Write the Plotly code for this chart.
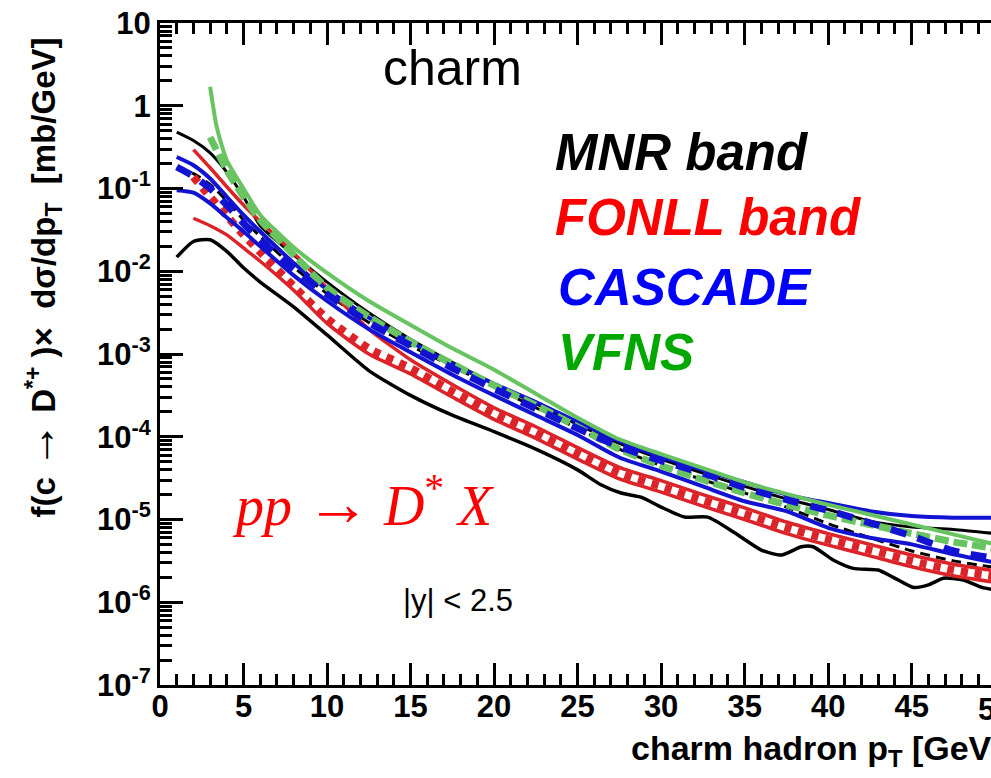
import plotly.graph_objects as go

# ---------------- data ----------------
pt_grid = [1, 2, 3, 4, 5, 6, 8, 10, 12.5, 15, 17.5, 20, 22.5, 25, 27.5, 30,
           32.5, 35, 37.5, 40, 42.5, 45, 47.5, 50]
pt_from2 = pt_grid[1:]
pt_vfns_up = [3, 3.4, 4, 5, 6, 8, 10, 12.5, 15, 17.5, 20, 22.5, 25, 27.5, 30,
              32.5, 35, 37.5, 40, 42.5, 45, 47.5, 50]
pt_vfns_c = pt_grid[2:]

# MNR band (black)
mnr_upper = [0.48, 0.38, 0.27, 0.158, 0.0794, 0.0355, 0.0158, 7.4e-3, 3.16e-3,
             1.51e-3, 7.94e-4, 4.37e-4, 2.51e-4, 1.41e-4, 8.3e-5, 5.37e-5,
             3.63e-5, 2.51e-5, 1.78e-5, 1.32e-5, 9.55e-6, 8.13e-6, 7.59e-6, 6.76e-6]
mnr_central = [0.178, 0.151, 0.112, 0.0708, 0.0417, 0.0263, 0.0112, 5.37e-3,
               2.40e-3, 1.26e-3, 7.08e-4, 3.98e-4, 2.24e-4, 1.26e-4, 7.08e-5,
               4.47e-5, 3.02e-5, 2.09e-5, 1.41e-5, 8.91e-6, 6.03e-6, 4.17e-6,
               3.16e-6, 2.63e-6]
pt_mnr_low = [1, 2, 3, 4, 5, 6, 8, 10, 12.5, 15, 17.5, 20, 22.5, 25, 26.4, 27.6,
              28.8, 30, 31.4, 32.8, 34.4, 36, 37.2, 38.4, 39.1, 40.3, 41.5, 43,
              43.9, 45.1, 46, 46.9, 48.1, 49.2, 50]
mnr_lower = [0.0148, 0.0229, 0.0240, 0.0174, 0.0110, 7.41e-3, 3.72e-3, 1.70e-3,
             6.31e-4, 3.16e-4, 1.82e-4, 1.15e-4, 7.08e-5, 3.98e-5, 2.63e-5,
             2.09e-5, 1.86e-5, 1.41e-5, 1.07e-5, 1.07e-5, 6.92e-6, 4.27e-6,
             3.72e-6, 4.68e-6, 4.68e-6, 3.24e-6, 2.57e-6, 2.45e-6, 2.00e-6,
             1.51e-6, 1.62e-6, 1.95e-6, 1.86e-6, 1.51e-6, 1.41e-6]

# FONLL band (red)
fonll_upper = [0.295, 0.178, 0.105, 0.0631, 0.0398, 0.0166, 6.31e-3, 2.00e-3,
               8.51e-4, 4.27e-4, 2.24e-4, 1.32e-4, 7.41e-5, 4.27e-5, 2.95e-5,
               2.00e-5, 1.38e-5, 9.33e-6, 6.76e-6, 5.01e-6, 3.72e-6, 2.88e-6, 2.40e-6]
fonll_central = [0.138, 0.0794, 0.0468, 0.0275, 0.0170, 6.61e-3, 2.69e-3,
                 1.17e-3, 6.76e-4, 3.55e-4, 1.91e-4, 1.12e-4, 6.31e-5, 3.63e-5,
                 2.51e-5, 1.70e-5, 1.17e-5, 7.94e-6, 5.75e-6, 4.27e-6, 3.16e-6,
                 2.45e-6, 2.04e-6]
fonll_lower = [0.0437, 0.0355, 0.0275, 0.0191, 0.0132, 5.89e-3, 2.34e-3, 1.00e-3,
               5.75e-4, 3.02e-4, 1.62e-4, 9.55e-5, 5.37e-5, 3.09e-5, 2.14e-5,
               1.45e-5, 1.00e-5, 6.76e-6, 4.90e-6, 3.63e-6, 2.69e-6, 2.09e-6, 1.74e-6]

# CASCADE (blue)
cascade_upper = [0.240, 0.191, 0.132, 0.0794, 0.0479, 0.0302, 0.0126, 6.03e-3,
                 2.75e-3, 1.41e-3, 7.59e-4, 4.37e-4, 2.63e-4, 1.51e-4, 8.91e-5,
                 5.75e-5, 3.98e-5, 2.82e-5, 2.00e-5, 1.58e-5, 1.26e-5, 1.10e-5,
                 1.05e-5, 1.05e-5]
cascade_central = [0.182, 0.141, 0.100, 0.0631, 0.0380, 0.0240, 0.0107, 5.25e-3,
                   2.40e-3, 1.26e-3, 6.76e-4, 3.80e-4, 2.19e-4, 1.26e-4, 7.59e-5,
                   5.13e-5, 3.63e-5, 2.45e-5, 1.74e-5, 1.29e-5, 9.12e-6, 6.31e-6,
                   4.17e-6, 3.39e-6]
cascade_lower = [0.0955, 0.0891, 0.0661, 0.0447, 0.0302, 0.0200, 8.91e-3, 4.37e-3,
                 2.00e-3, 1.05e-3, 5.62e-4, 3.16e-4, 1.82e-4, 1.05e-4, 5.62e-5,
                 3.80e-5, 2.51e-5, 1.66e-5, 1.26e-5, 7.94e-6, 6.03e-6, 5.01e-6,
                 3.80e-6, 3.02e-6]

# VFNS (green)
vfns_upper = [1.70, 0.550, 0.219, 0.100, 0.0479, 0.0195, 9.55e-3, 4.37e-3,
              2.24e-3, 1.17e-3, 6.46e-4, 3.31e-4, 1.70e-4, 9.33e-5, 6.17e-5,
              4.17e-5, 2.82e-5, 2.04e-5, 1.51e-5, 1.15e-5, 8.71e-6, 6.61e-6, 5.01e-6]
vfns_central = [0.417, 0.166, 0.0794, 0.0417, 0.0158, 6.31e-3, 2.82e-3, 1.41e-3,
                7.59e-4, 4.17e-4, 2.40e-4, 1.32e-4, 7.08e-5, 4.47e-5, 3.02e-5,
                2.09e-5, 1.51e-5, 1.12e-5, 8.71e-6, 6.76e-6, 5.37e-6, 4.47e-6]

x_tickvals = [0, 5, 10, 15, 20, 25, 30, 35, 40, 45]
x_last_label = "50"
y_tickvals = [1e-7, 1e-6, 1e-5, 1e-4, 1e-3, 1e-2, 1e-1, 1, 10]
y_ticktext = ["10<sup>-7</sup>", "10<sup>-6</sup>", "10<sup>-5</sup>",
              "10<sup>-4</sup>", "10<sup>-3</sup>", "10<sup>-2</sup>",
              "10<sup>-1</sup>", "1", "10"]
y_minor = [k * 10.0 ** e for e in range(-7, 1) for k in range(2, 10)]

BLACK = "#000000"
RED = "#dc2329"
BLUE = "#1212d2"
GREEN = "#68c460"

X_MAX = 49.75

fig = go.Figure()


def add(x, y, color, width, dash="solid"):
    fig.add_trace(go.Scatter(
        x=x, y=y, mode="lines", showlegend=False, hoverinfo="skip",
        line=dict(color=color, width=width, dash=dash, shape="spline",
                  smoothing=0.6)))


add(pt_mnr_low, mnr_lower, BLACK, 3.5)
add(pt_grid, mnr_upper, BLACK, 3)
add(pt_grid, mnr_central, BLACK, 3, "10px,6px")
add(pt_from2, fonll_lower, RED, 3.5)
add(pt_from2, fonll_upper, RED, 3.5)
add(pt_from2, fonll_central, RED, 8, "7px,7px")
add(pt_grid, cascade_lower, BLUE, 4)
add(pt_grid, cascade_upper, BLUE, 4)
add(pt_vfns_c, vfns_central, GREEN, 7, "14px,5px")
add(pt_grid, cascade_central, BLUE, 7, "16px,12px")
add(pt_vfns_up, vfns_upper, GREEN, 4)

SANS = "Liberation Sans, Arial, sans-serif"
AX_FONT = dict(family=SANS, size=31, color="black", weight="bold")

fig.update_layout(
    width=991, height=778,
    margin=dict(l=160, r=0, t=23, b=93),
    paper_bgcolor="white", plot_bgcolor="white",
    showlegend=False,
    xaxis=dict(
        range=[0, X_MAX], tickmode="array", tickvals=x_tickvals,
        ticks="inside", ticklen=22, tickwidth=3, tickcolor="black",
        showline=True, linewidth=3, linecolor="black", mirror="allticks",
        showgrid=False, zeroline=False, tickfont=AX_FONT,
        ticklabelstandoff=-8,
        minor=dict(dtick=1, ticks="inside", ticklen=11, tickwidth=3,
                   tickcolor="black", showgrid=False),
    ),
    yaxis=dict(
        type="log", range=[-7, 1], tickmode="array", tickvals=y_tickvals,
        ticktext=y_ticktext, ticks="inside", ticklen=23, tickwidth=3,
        tickcolor="black", showline=True, linewidth=3, linecolor="black",
        mirror=False, showgrid=False, zeroline=False, tickfont=AX_FONT,
        minor=dict(tickmode="array", tickvals=y_minor, ticks="inside",
                   ticklen=12, tickwidth=3, tickcolor="black", showgrid=False),
    ),
    yaxis2=dict(
        type="log", range=[-7, 1], overlaying="y", side="right", anchor="x",
        tickmode="array", tickvals=y_tickvals, ticks="inside", ticklen=23,
        tickwidth=3, tickcolor="black", showline=False, showgrid=False,
        showticklabels=False, zeroline=False,
        minor=dict(tickmode="array", tickvals=y_minor, ticks="inside",
                   ticklen=12, tickwidth=3, tickcolor="black", showgrid=False),
    ),
)

NB = "\u00a0"
ann = [
    dict(text="charm", x=0.352, y=0.932, xanchor="center", yanchor="middle",
         font=dict(family=SANS, size=50, color="black")),
    dict(text="MNR band", x=0.473, y=0.805, xanchor="left", yanchor="middle",
         font=dict(family=SANS, size=51, color="black", weight="bold",
                   style="italic")),
    dict(text="FONLL band", x=0.473, y=0.706, xanchor="left", yanchor="middle",
         font=dict(family=SANS, size=51, color="#ff0000", weight="bold",
                   style="italic")),
    dict(text="CASCADE", x=0.476, y=0.601, xanchor="left", yanchor="middle",
         font=dict(family=SANS, size=51, color="#0000ff", weight="bold",
                   style="italic")),
    dict(text="VFNS", x=0.476, y=0.503, xanchor="left", yanchor="middle",
         font=dict(family=SANS, size=51, color="#00a800", weight="bold",
                   style="italic")),
    dict(text="<i>pp</i>" + NB + "<span style='font-size:64px'>→</span>" + NB
         + "<i>D</i><sup>*</sup>" + NB + "<i>X</i>",
         x=0.0844, y=0.275, xanchor="left", yanchor="middle",
         font=dict(family="Liberation Serif, DejaVu Serif, serif", size=56,
                   color="#ff0000")),
    dict(text="|y|" + NB + "&lt;" + NB + "2.5", x=0.2895, y=0.128,
         xanchor="left", yanchor="middle",
         font=dict(family=SANS, size=31, color="black")),
    dict(text=x_last_label, x=(50 / X_MAX), y=-0.008, xanchor="center",
         yanchor="top", font=AX_FONT),
    dict(text="f(c" + NB + "<span style='font-size:46px'>→</span>" + NB
         + "D<sup>*+</sup>" + NB + ")×" + NB + NB + "dσ/dp<sub>T</sub>" + NB
         + NB + "[mb/GeV]",
         x=-0.1448, y=0.615, textangle=-90, xanchor="center", yanchor="middle",
         font=dict(family=SANS, size=33, color="black", weight="bold")),
    dict(text="charm hadron p<sub>T</sub> [GeV]", x=0.5645, y=-0.099,
         xanchor="left", yanchor="middle",
         font=dict(family=SANS, size=34, color="black", weight="bold")),
]
for a in ann:
    a.setdefault("xref", "paper")
    a.setdefault("yref", "paper")
    a["showarrow"] = False
    fig.add_annotation(**a)

fig.write_html("out.html")
